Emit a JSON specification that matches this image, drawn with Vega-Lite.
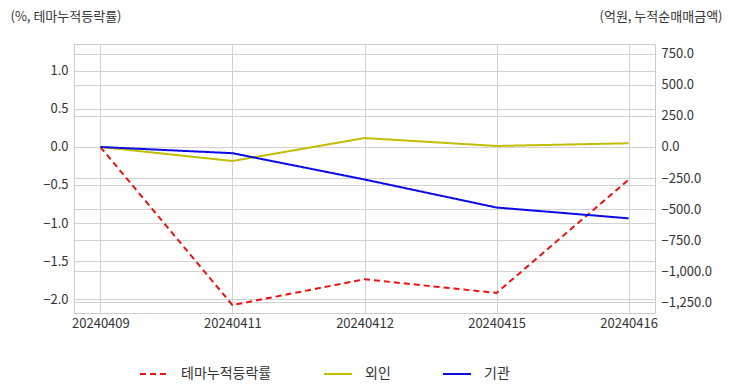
{
  "$schema": "https://vega.github.io/schema/vega-lite/v6.json",
  "autosize": "none",
  "width": 581,
  "height": 269,
  "padding": {"left": 74, "top": 44, "right": 77, "bottom": 79},
  "background": "white",
  "config": {
    "font": "Noto Sans CJK KR",
    "view": {"stroke": "#cccccc", "strokeWidth": 1},
    "axis": {
      "labelFont": "Noto Sans CJK KR",
      "labelFontSize": 13,
      "labelColor": "#333333",
      "titleFont": "Noto Sans CJK KR",
      "titleFontSize": 13,
      "titleFontWeight": "normal",
      "titleColor": "#333333",
      "gridColor": "#d2d2d2",
      "gridWidth": 1,
      "domain": false,
      "ticks": false
    },
    "legend": {
      "labelFont": "Noto Sans CJK KR",
      "labelFontSize": 14,
      "labelColor": "#333333"
    }
  },
  "data": {
    "values": [
      {"date": "20240409", "series": "테마누적등락률", "value": 0},
      {"date": "20240411", "series": "테마누적등락률", "value": -2.08},
      {"date": "20240412", "series": "테마누적등락률", "value": -1.74},
      {"date": "20240415", "series": "테마누적등락률", "value": -1.92},
      {"date": "20240416", "series": "테마누적등락률", "value": -0.43},
      {"date": "20240409", "series": "외인", "value": 0},
      {"date": "20240411", "series": "외인", "value": -113},
      {"date": "20240412", "series": "외인", "value": 72},
      {"date": "20240415", "series": "외인", "value": 8},
      {"date": "20240416", "series": "외인", "value": 30},
      {"date": "20240409", "series": "기관", "value": 0},
      {"date": "20240411", "series": "기관", "value": -50},
      {"date": "20240412", "series": "기관", "value": -262},
      {"date": "20240415", "series": "기관", "value": -488},
      {"date": "20240416", "series": "기관", "value": -575}
    ]
  },
  "encoding": {
    "x": {
      "field": "date",
      "type": "ordinal",
      "sort": null,
      "scale": {"type": "point", "padding": 0.2},
      "axis": {"title": null, "labelAngle": 0, "grid": true, "gridColor": "#d2d2d2", "labelPadding": 4}
    },
    "color": {
      "field": "series",
      "type": "nominal",
      "scale": {
        "domain": ["테마누적등락률", "외인", "기관"],
        "range": ["#ee1111", "#c2bd00", "#0a0ae6"]
      },
      "legend": {
        "title": null,
        "orient": "none",
        "legendX": 65,
        "legendY": 315,
        "direction": "horizontal",
        "columns": 3,
        "columnPadding": 48,
        "symbolType": "stroke",
        "symbolSize": 784,
        "symbolStrokeWidth": 2,
        "labelOffset": 12
      }
    },
    "strokeDash": {
      "field": "series",
      "type": "nominal",
      "scale": {
        "domain": ["테마누적등락률", "외인", "기관"],
        "range": [[6, 4], [1, 0], [1, 0]]
      },
      "legend": {
        "title": null,
        "orient": "none",
        "legendX": 65,
        "legendY": 315,
        "direction": "horizontal",
        "columns": 3,
        "columnPadding": 48,
        "symbolType": "stroke",
        "symbolSize": 784,
        "symbolStrokeWidth": 2,
        "labelOffset": 12
      }
    }
  },
  "layer": [
    {
      "transform": [{"filter": "datum.series === '테마누적등락률'"}],
      "mark": {"type": "line", "strokeWidth": 2},
      "encoding": {
        "y": {
          "field": "value",
          "type": "quantitative",
          "scale": {"domain": [-2.184, 1.355], "nice": false, "zero": false},
          "axis": {
            "orient": "left",
            "grid": true,
            "values": [-2, -1.5, -1, -0.5, 0, 0.5, 1],
            "format": ".1f",
            "title": "(%, 테마누적등락률)",
            "titleAngle": 0,
            "titleAlign": "left",
            "titleBaseline": "middle",
            "titleX": -64,
            "titleY": -28,
            "labelPadding": 6
          }
        }
      }
    },
    {
      "transform": [{"filter": "datum.series !== '테마누적등락률'"}],
      "mark": {"type": "line", "strokeWidth": 2},
      "encoding": {
        "y": {
          "field": "value",
          "type": "quantitative",
          "scale": {"domain": [-1338, 830], "nice": false, "zero": false},
          "axis": {
            "orient": "right",
            "grid": true,
            "gridColor": "#d2d2d2",
            "values": [-1250, -1000, -750, -500, -250, 0, 250, 500, 750],
            "format": ",.1f",
            "title": "(억원, 누적순매매금액)",
            "titleAngle": 0,
            "titleAlign": "right",
            "titleBaseline": "middle",
            "titleX": 67,
            "titleY": -28,
            "labelPadding": 6
          }
        }
      }
    }
  ],
  "resolve": {"scale": {"y": "independent"}}
}
